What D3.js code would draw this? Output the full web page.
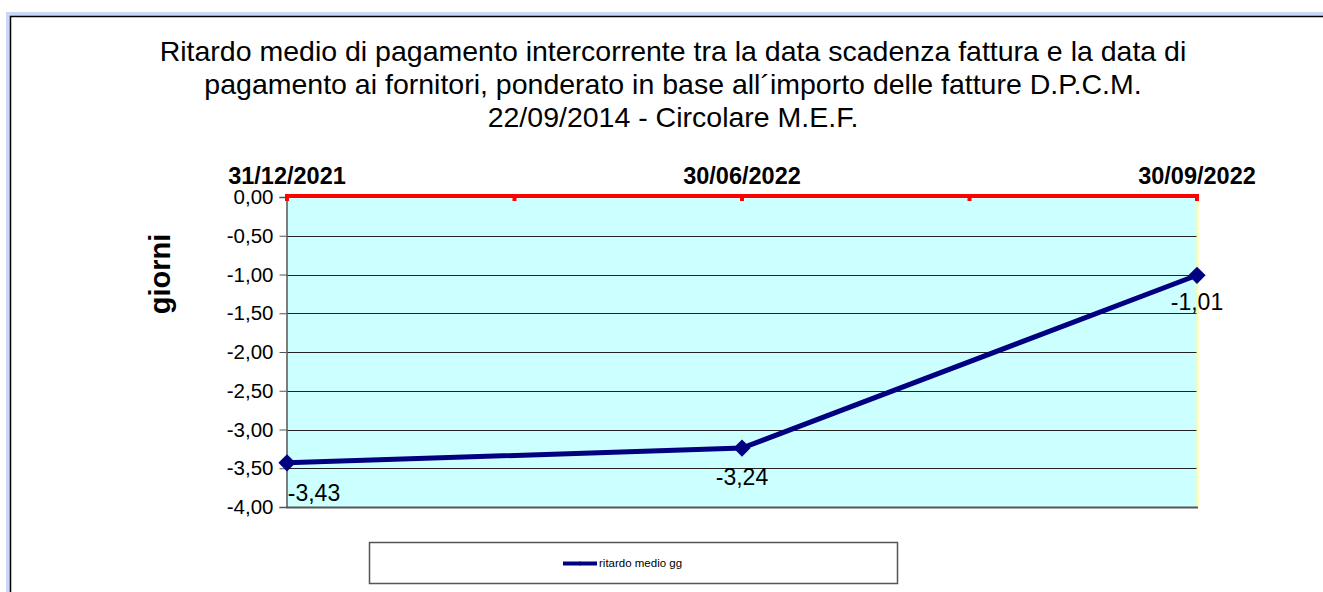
<!DOCTYPE html>
<html>
<head>
<meta charset="utf-8">
<script src="https://cdn.jsdelivr.net/npm/d3@7"></script>
<style>
  body { margin: 0; background: #fff; }
  text { font-family: Arial, "Liberation Sans", sans-serif; }
</style>
</head>
<body>
<script>
// chart data
var dates = ["31/12/2021", "30/06/2022", "30/09/2022"];
var ritardo = [-3.43, -3.24, -1.01];
var yTicks = [0, -0.5, -1, -1.5, -2, -2.5, -3, -3.5, -4];
var titleLines = [
  "Ritardo medio di pagamento intercorrente tra la data scadenza fattura e la data di",
  "pagamento ai fornitori, ponderato in base all\u00b4importo delle fatture D.P.C.M.",
  "22/09/2014 - Circolare M.E.F."
];
var seriesName = "ritardo medio gg";

var width = 1323, height = 592;
var plotLeft = 287, plotRight = 1197, plotTop = 197, plotBottom = 507;

var svg = d3.select("body").append("svg")
  .attr("width", width)
  .attr("height", height);

// outer frame (open to the right / bottom as in the picture)
svg.append("rect")
  .attr("x", 8).attr("y", 14)
  .attr("width", 1400).attr("height", 700)
  .attr("fill", "none")
  .attr("stroke", "#c9d9f5")
  .attr("stroke-width", 4);
svg.append("rect")
  .attr("x", 10.5).attr("y", 16.5)
  .attr("width", 1400).attr("height", 700)
  .attr("fill", "none")
  .attr("stroke", "#000")
  .attr("stroke-width", 1.5);

// title
svg.append("g").selectAll("text")
  .data(titleLines)
  .enter()
  .append("text")
  .text(function(d){ return d; })
  .attr("x", 673)
  .attr("y", function(d, i){ return 61 + i * 33; })
  .attr("text-anchor", "middle")
  .attr("font-size", "28.5px")
  .attr("fill", "#000");

var x = d3.scalePoint().domain(d3.range(dates.length)).range([plotLeft, plotRight]);
var y = d3.scaleLinear().domain([-4, 0]).range([plotBottom, plotTop]);

// plot area
svg.append("rect")
  .attr("x", plotLeft).attr("y", plotTop)
  .attr("width", plotRight - plotLeft).attr("height", plotBottom - plotTop)
  .attr("fill", "#ccffff");

// gridlines
svg.append("g").selectAll("line")
  .data(yTicks.filter(function(d){ return d !== 0 && d !== -4; }))
  .enter()
  .append("line")
  .attr("x1", plotLeft).attr("x2", plotRight)
  .attr("y1", function(d){ return Math.round(y(d)) + 0.5; })
  .attr("y2", function(d){ return Math.round(y(d)) + 0.5; })
  .attr("stroke", "#222")
  .attr("stroke-width", 1);

// side border (pale yellow) and bottom border
svg.append("line")
  .attr("x1", plotRight + 0.5).attr("x2", plotRight + 0.5)
  .attr("y1", plotTop).attr("y2", plotBottom)
  .attr("stroke", "#ffff99").attr("stroke-width", 2);
svg.append("line")
  .attr("x1", plotLeft - 0.5).attr("x2", plotRight + 1)
  .attr("y1", plotBottom + 0.5).attr("y2", plotBottom + 0.5)
  .attr("stroke", "#555").attr("stroke-width", 2);

// y axis
var fmt = function(d){ return d3.format(".2f")(d).replace(".", ",").replace("\u2212", "-"); };
var yAxis = d3.axisLeft(y)
  .tickValues(yTicks)
  .tickSize(7)
  .tickPadding(6)
  .tickFormat(fmt);
var gy = svg.append("g")
  .attr("transform", "translate(" + (plotLeft - 0.5) + ",0)")
  .call(yAxis);
gy.select(".domain").attr("stroke", "#555").attr("stroke-width", 1.5);
gy.selectAll(".tick line").attr("stroke", "#555");
gy.selectAll(".tick text")
  .attr("font-size", "20.5px")
  .attr("font-family", "Arial, 'Liberation Sans', sans-serif")
  .attr("fill", "#000");

// y axis title
svg.append("text")
  .text("giorni")
  .attr("transform", "translate(170,274) rotate(-90)")
  .attr("text-anchor", "middle")
  .attr("font-size", "29px")
  .attr("font-weight", "bold")
  .attr("fill", "#000");

// top red axis
svg.append("line")
  .attr("x1", plotLeft - 2).attr("x2", plotRight + 2)
  .attr("y1", plotTop - 1).attr("y2", plotTop - 1)
  .attr("stroke", "#ff0000").attr("stroke-width", 4);
var redTicks = d3.range(0, dates.length - 0.5 + 0.01, 0.5).map(function(t){
  return plotLeft + t * (x(1) - x(0));
});
svg.append("g").selectAll("rect")
  .data(redTicks)
  .enter()
  .append("rect")
  .attr("x", function(d){ return d - 2; })
  .attr("y", plotTop)
  .attr("width", 4).attr("height", 4)
  .attr("fill", "#ff0000");

// date labels
svg.append("g").selectAll("text")
  .data(dates)
  .enter()
  .append("text")
  .text(function(d){ return d; })
  .attr("x", function(d, i){ return x(i); })
  .attr("y", 184)
  .attr("text-anchor", "middle")
  .attr("font-size", "23.5px")
  .attr("font-weight", "bold")
  .attr("fill", "#000");

// line
var line = d3.line()
  .x(function(d, i){ return x(i); })
  .y(function(d){ return y(d); });
svg.append("path")
  .datum(ritardo)
  .attr("d", line)
  .attr("fill", "none")
  .attr("stroke", "#000080")
  .attr("stroke-width", 5);

// markers
svg.append("g").selectAll("path")
  .data(ritardo)
  .enter()
  .append("path")
  .attr("d", d3.symbol().type(d3.symbolDiamond2).size(190))
  .attr("transform", function(d, i){ return "translate(" + x(i) + "," + y(d) + ")"; })
  .attr("fill", "#000080");

// data labels
var labelDx = [27, 0, 0];
var labelDy = [38, 37, 35];
svg.append("g").selectAll("text")
  .data(ritardo)
  .enter()
  .append("text")
  .text(fmt)
  .attr("x", function(d, i){ return x(i) + labelDx[i]; })
  .attr("y", function(d, i){ return y(d) + labelDy[i]; })
  .attr("text-anchor", "middle")
  .attr("font-size", "23px")
  .attr("fill", "#000");

// legend
svg.append("rect")
  .attr("x", 369.5).attr("y", 542.5)
  .attr("width", 528).attr("height", 41)
  .attr("fill", "#fff")
  .attr("stroke", "#555")
  .attr("stroke-width", 1.5);
svg.append("line")
  .attr("x1", 563).attr("x2", 597)
  .attr("y1", 563.5).attr("y2", 563.5)
  .attr("stroke", "#000080").attr("stroke-width", 4);
svg.append("path")
  .attr("d", d3.symbol().type(d3.symbolDiamond2).size(14))
  .attr("transform", "translate(580,563.5)")
  .attr("fill", "#000080");
svg.append("text")
  .text(seriesName)
  .attr("x", 599)
  .attr("y", 567)
  .attr("font-size", "11.5px")
  .attr("fill", "#000");
</script>
</body>
</html>
